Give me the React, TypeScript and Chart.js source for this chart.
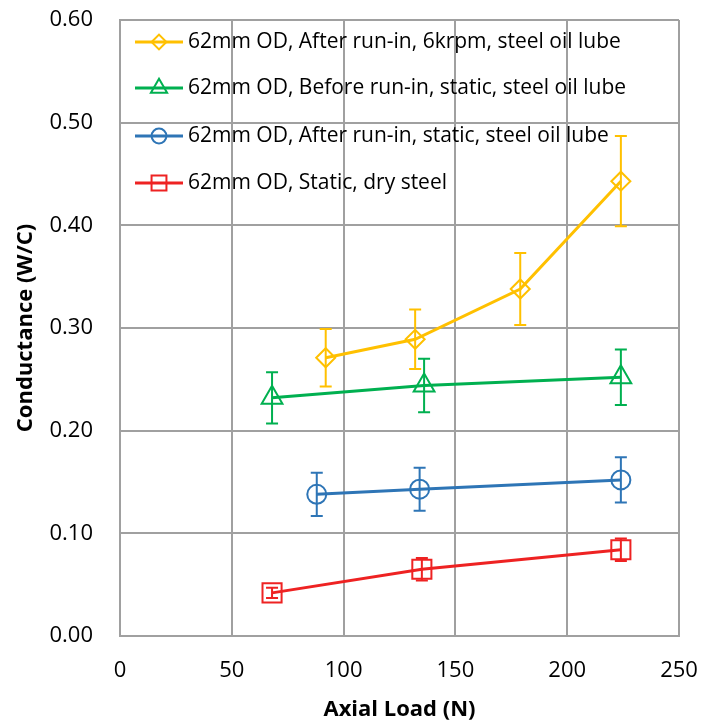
import React, { useEffect, useRef } from 'react';
import { Chart, registerables } from 'chart.js';

Chart.register(...registerables);

const FONT = "'Open Sans', sans-serif";

const seriesLabels = [
  '62mm OD, After run-in, 6krpm, steel oil lube',
  '62mm OD, Before run-in, static, steel oil lube',
  '62mm OD, After run-in, static, steel oil lube',
  '62mm OD, Static, dry steel',
];
const seriesColors = ['#FFC000', '#00B050', '#2E75B6', '#EE2222'];
const seriesMarkers = ['rectRot', 'triangle', 'circle', 'rect'];
const seriesRadius = [9.5, 12, 9.5, 13.5];

const yellowX = [92, 132, 179, 224];
const yellowY = [0.271, 0.289, 0.338, 0.443];
const yellowErr = [0.028, 0.029, 0.035, 0.044];

const greenX = [68, 136, 224];
const greenY = [0.232, 0.244, 0.252];
const greenErr = [0.025, 0.026, 0.027];

const blueX = [88, 134, 224];
const blueY = [0.138, 0.143, 0.152];
const blueErr = [0.021, 0.021, 0.022];

const redX = [68, 135, 224];
const redY = [0.042, 0.065, 0.084];
const redErr = [0.005, 0.011, 0.011];

const xTicks = [0, 50, 100, 150, 200, 250];
const yTicks = [0, 0.1, 0.2, 0.3, 0.4, 0.5, 0.6];

const allX = [yellowX, greenX, blueX, redX];
const allY = [yellowY, greenY, blueY, redY];
const allErr = [yellowErr, greenErr, blueErr, redErr];

function drawMarker(ctx: CanvasRenderingContext2D, style: string, x: number, y: number, r: number) {
  ctx.beginPath();
  if (style === 'rectRot') {
    ctx.moveTo(x - r, y);
    ctx.lineTo(x, y - r);
    ctx.lineTo(x + r, y);
    ctx.lineTo(x, y + r);
    ctx.closePath();
  } else if (style === 'triangle') {
    const h = r * 1.5;
    const w = r * Math.sqrt(3) / 2;
    ctx.moveTo(x, y - r);
    ctx.lineTo(x + w, y + h - r);
    ctx.lineTo(x - w, y + h - r);
    ctx.closePath();
  } else if (style === 'circle') {
    ctx.arc(x, y, r, 0, Math.PI * 2);
  } else {
    const s = r * Math.SQRT1_2;
    ctx.rect(x - s, y - s, 2 * s, 2 * s);
  }
  ctx.stroke();
}

const errorBarPlugin = {
  id: 'errorBars',
  afterDatasetsDraw(chart: any) {
    const ctx = chart.ctx as CanvasRenderingContext2D;
    const yScale = chart.scales.y;
    chart.data.datasets.forEach((ds: any, i: number) => {
      const meta = chart.getDatasetMeta(i);
      const errs = allErr[i];
      meta.data.forEach((pt: any, j: number) => {
        const v = allY[i][j];
        const top = yScale.getPixelForValue(v + errs[j]);
        const bot = yScale.getPixelForValue(v - errs[j]);
        const x = pt.x;
        ctx.save();
        ctx.strokeStyle = ds.borderColor;
        ctx.lineWidth = 2;
        ctx.beginPath();
        ctx.moveTo(x, top);
        ctx.lineTo(x, bot);
        ctx.moveTo(x - 6, top);
        ctx.lineTo(x + 6, top);
        ctx.moveTo(x - 6, bot);
        ctx.lineTo(x + 6, bot);
        ctx.stroke();
        ctx.restore();
      });
    });
  },
};

const legendPlugin = {
  id: 'insideLegend',
  afterDraw(chart: any) {
    const ctx = chart.ctx as CanvasRenderingContext2D;
    const area = chart.chartArea;
    const rows = [22, 68, 116, 163];
    ctx.save();
    seriesLabels.forEach((label, i) => {
      const y = area.top + rows[i];
      const x0 = area.left + 15;
      ctx.strokeStyle = seriesColors[i];
      ctx.lineWidth = 3;
      ctx.beginPath();
      ctx.moveTo(x0, y);
      ctx.lineTo(x0 + 48, y);
      ctx.stroke();
      ctx.lineWidth = 2;
      drawMarker(ctx, seriesMarkers[i], x0 + 24, y, seriesRadius[i] * 0.78);
      ctx.fillStyle = '#000';
      ctx.font = `21px ${FONT}`;
      ctx.textBaseline = 'middle';
      ctx.textAlign = 'left';
      ctx.fillText(label, x0 + 53, y);
    });
    ctx.restore();
  },
};

function zeroPadding(scale: any) {
  scale.paddingTop = 0;
  scale.paddingBottom = 0;
  scale.paddingLeft = 0;
  scale.paddingRight = 0;
}

export default function App() {
  const canvasRef = useRef<HTMLCanvasElement | null>(null);

  useEffect(() => {
    document.body.style.margin = '0';
    const canvas = canvasRef.current;
    if (!canvas) return;
    const datasets = seriesLabels.map((label, i) => ({
      label,
      data: allX[i].map((x, j) => ({ x, y: allY[i][j] })),
      showLine: true,
      borderColor: seriesColors[i],
      backgroundColor: 'rgba(0,0,0,0)',
      borderWidth: 3,
      pointStyle: seriesMarkers[i],
      pointRadius: seriesRadius[i],
      pointBorderWidth: 2,
      pointBorderColor: seriesColors[i],
      pointBackgroundColor: 'rgba(0,0,0,0)',
      clip: false,
    }));
    const chart = new Chart(canvas, {
      type: 'scatter',
      data: { datasets },
      plugins: [errorBarPlugin, legendPlugin],
      options: {
        animation: false,
        responsive: true,
        maintainAspectRatio: false,
        layout: { padding: { top: 20, right: 23, left: 0, bottom: 0 } },
        plugins: { legend: { display: false }, tooltip: { enabled: false } },
        scales: {
          x: {
            type: 'linear',
            min: 0,
            max: 250,
            afterBuildTicks: (scale: any) => {
              scale.ticks = xTicks.map((v) => ({ value: v }));
            },
            afterFit: (scale: any) => {
              scale.height = 90;
              zeroPadding(scale);
            },
            ticks: {
              color: '#000',
              font: { family: FONT, size: 22 },
              padding: 22,
              maxRotation: 0,
            },
            grid: { color: '#a0a0a0', lineWidth: 2, drawTicks: false },
            border: { color: '#a0a0a0', width: 2 },
            title: {
              display: true,
              text: 'Axial Load (N)',
              color: '#000',
              font: { family: FONT, size: 22, weight: 'bold' },
              padding: { top: 0, bottom: 3 },
            },
          },
          y: {
            type: 'linear',
            min: 0,
            max: 0.6,
            afterBuildTicks: (scale: any) => {
              scale.ticks = yTicks.map((v) => ({ value: v }));
            },
            afterFit: (scale: any) => {
              scale.width = 120;
              zeroPadding(scale);
            },
            ticks: {
              color: '#000',
              font: { family: FONT, size: 22 },
              padding: 27,
              callback: (v: any) => Number(v).toFixed(2),
            },
            grid: { color: '#a0a0a0', lineWidth: 2, drawTicks: false },
            border: { color: '#a0a0a0', width: 2 },
            title: {
              display: true,
              text: 'Conductance (W/C)',
              color: '#000',
              font: { family: FONT, size: 22, weight: 'bold' },
              padding: { top: 13, bottom: 0 },
            },
          },
        },
      } as any,
    });
    return () => chart.destroy();
  }, []);

  return (
    <div style={{ width: 702, height: 726, position: 'relative' }}>
      <canvas ref={canvasRef} />
    </div>
  );
}
